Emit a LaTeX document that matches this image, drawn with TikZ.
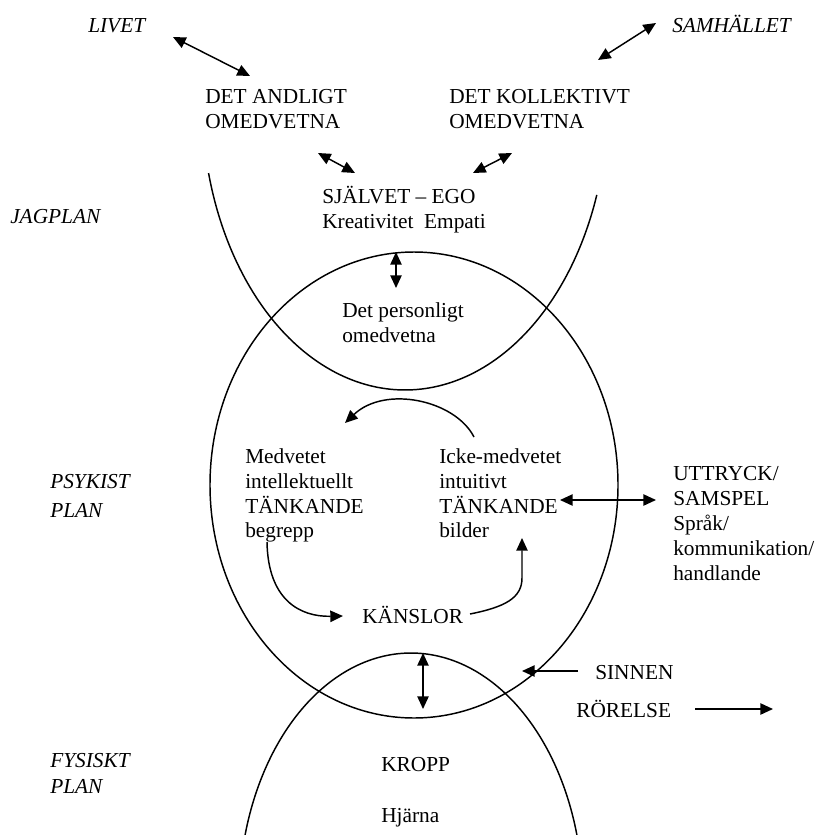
\documentclass[tikz,border=0pt]{standalone}
\usepackage{fontspec}
\setmainfont{Liberation Serif}
\usetikzlibrary{arrows.meta}
\tikzset{
  txt/.style={anchor=base west, inner sep=0pt, font=\fontsize{16}{19}\selectfont},
  itxt/.style={anchor=base west, inner sep=0pt, font=\fontsize{16}{19}\selectfont\itshape},
  arr/.style={-{Triangle[length=9.5pt,width=8.5pt]}, line width=1.1pt},
  darr/.style={{Triangle[length=9.5pt,width=8.5pt]}-{Triangle[length=9.5pt,width=8.5pt]}, line width=1.1pt},
  curve/.style={line width=1.1pt}
}
\begin{document}
\begin{tikzpicture}[x=0.75pt,y=-0.75pt]
\useasboundingbox (0,0) rectangle (816,835);

% planes (italic labels)
\node[itxt] (livet) at (88,32) {LIVET};
\node[itxt] (samh) at (672,32) {SAMHÄLLET};
\node[itxt] (jag) at (10,223) {JAGPLAN};
\node[itxt] (psy1) at (50,488) {PSYKIST};
\node[itxt] (psy2) at (50,517) {PLAN};
\node[itxt] (fys1) at (50,767) {FYSISKT};
\node[itxt] (fys2) at (50,793) {PLAN};

% upper texts
\node[txt] (and1) at (205,103) {DET ANDLIGT};
\node[txt] (and2) at (205,128) {OMEDVETNA};
\node[txt] (kol1) at (449,103) {DET KOLLEKTIVT};
\node[txt] (kol2) at (449,128) {OMEDVETNA};
\node[txt] (sj1) at (322,203) {SJÄLVET – EGO};
\node[txt] (sj2) at (322,228) {Kreativitet\ \ Empati};
\node[txt] (pers1) at (342,317) {Det personligt};
\node[txt] (pers2) at (342,342) {omedvetna};

% psychic plane texts
\node[txt] (med1) at (245,463) {Medvetet};
\node[txt] (med2) at (245,488) {intellektuellt};
\node[txt] (med3) at (245,513) {TÄNKANDE};
\node[txt] (med4) at (245,537) {begrepp};
\node[txt] (ick1) at (439,463) {Icke-medvetet};
\node[txt] (ick2) at (439,488) {intuitivt};
\node[txt] (ick3) at (439,513) {TÄNKANDE};
\node[txt] (ick4) at (439,537) {bilder};
\node[txt] (utt1) at (673,480) {UTTRYCK/};
\node[txt] (utt2) at (673,505) {SAMSPEL};
\node[txt] (utt3) at (673,530) {Språk/};
\node[txt] (utt4) at (673,555) {kommunikation/};
\node[txt] (utt5) at (673,580) {handlande};
\node[txt] (kans) at (362,623) {KÄNSLOR};
\node[txt] (sinn) at (595,679) {SINNEN};
\node[txt] (rore) at (576,717) {RÖRELSE};
\node[txt] (krop) at (381,771) {KROPP};
\node[txt] (hjar) at (381,822) {Hjärna};

% shapes
\draw[curve] plot[domain=165.4:19.1, samples=120] ({405+203*cos(\x)},{100+290*sin(\x)});
\draw[curve] (414,485) ellipse [x radius=153pt, y radius=174.75pt];
\draw[curve] plot[domain=195.3:344.7, samples=120] ({411+172*cos(\x)},{900+247*sin(\x)});

% arrow end points
\coordinate (livA) at (173,37);
\coordinate (livB) at (250,76);
\coordinate (samA) at (656,23);
\coordinate (samB) at (598,60);
\coordinate (sjA) at (318,153);
\coordinate (sjB) at (355,173);
\coordinate (sjC) at (512,153);
\coordinate (sjD) at (473,173);
\coordinate (vA) at (396,252);
\coordinate (vB) at (396,288);
\coordinate (c1s) at (474,437);
\coordinate (c1e) at (345,423);
\coordinate (c2s) at (267,542);
\coordinate (c2e) at (343,616);
\coordinate (c3s) at (470,614);
\coordinate (c3m) at (522,578);
\coordinate (c3e) at (522,538);
\coordinate (hA) at (560,500);
\coordinate (hB) at (656,500);
\coordinate (sinA) at (578,671);
\coordinate (sinB) at (522,671);
\coordinate (rorA) at (695,709);
\coordinate (rorB) at (773,709);
\coordinate (v2A) at (423,653);
\coordinate (v2B) at (423,709);

% arrows
\draw[darr] (livA) -- (livB);
\draw[darr] (samA) -- (samB);
\draw[darr] (sjA) -- (sjB);
\draw[darr] (sjC) -- (sjD);
\draw[darr] (vA) -- (vB);
\draw[arr] (c1s) .. controls (455,400) and (385,385) .. (c1e);
\draw[arr] (c2s) .. controls (268,600) and (300,617) .. (c2e);
\draw[arr] (c3s) .. controls (505,607) and (522,598) .. (c3m) -- (c3e);
\draw[darr] (hA) -- (hB);
\draw[arr] (sinA) -- (sinB);
\draw[arr] (rorA) -- (rorB);
\draw[darr] (v2A) -- (v2B);
\end{tikzpicture}
\end{document}
